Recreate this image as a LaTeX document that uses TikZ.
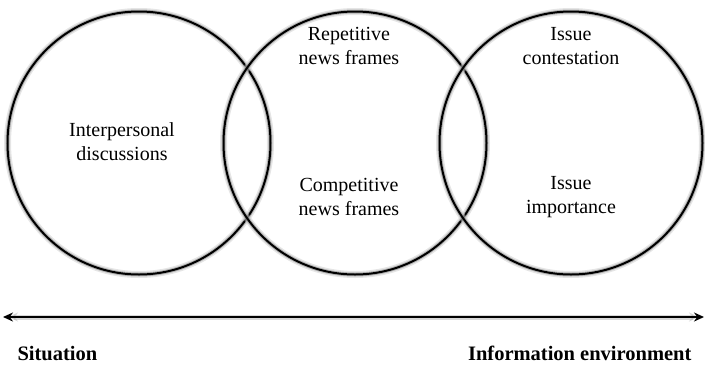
\documentclass[tikz,border=0pt]{standalone}
\usepackage{fontspec}
\setmainfont{Liberation Serif}
\usetikzlibrary{arrows.meta}
\tikzset{
  ring/.style={circle, draw=black, line width=2pt, minimum size=263pt, inner sep=0pt,
    preaction={draw=black!20, line width=7pt, opacity=0.5},
    preaction={draw=black!45, line width=4pt, opacity=0.6}},
  lbl/.style={align=center, font=\fontsize{20}{24}\selectfont},
  axislbl/.style={font=\fontsize{20.5}{24}\selectfont\bfseries}
}
\begin{document}
\begin{tikzpicture}[x=1pt,y=-1pt]
  \useasboundingbox (0,0) rectangle (705,365);
  \node[ring] (sit) at (139,143) {};
  \node[ring] (med) at (355,143) {};
  \node[ring] (env) at (571,143) {};
  \node[lbl] (inter) at (122,142) {Interpersonal\\discussions};
  \node[lbl] (rep) at (349,46) {Repetitive\\news frames};
  \node[lbl] (comp) at (349,197) {Competitive\\news frames};
  \node[lbl] (cont) at (571,46) {Issue\\contestation};
  \node[lbl] (imp) at (571,197) {Issue\\importance};
  \coordinate (l) at (3,317);
  \coordinate (r) at (704,317);
  \draw[{Stealth[length=10pt,width=9pt]}-{Stealth[length=10pt,width=9pt]}, line width=2.4pt,
    preaction={draw=black!30, line width=5pt, opacity=0.5, shorten <=5pt, shorten >=5pt}] (l) -- (r);
  \node[axislbl, anchor=base west] (situ) at (14,360) {Situation};
  \node[axislbl, anchor=base east] (info) at (695,360) {Information environment};
\end{tikzpicture}
\end{document}
